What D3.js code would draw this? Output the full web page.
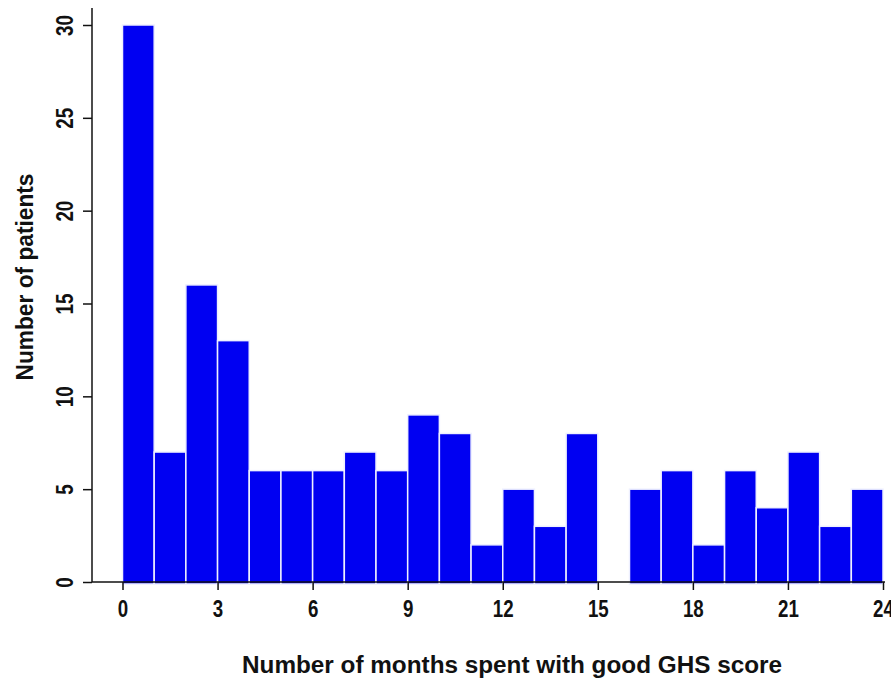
<!DOCTYPE html>
<html>
<head>
<meta charset="utf-8">
<script src="https://cdn.jsdelivr.net/npm/d3@7"></script>
<style>
  body { margin: 0; background: #fff; }
  text { font-family: "Liberation Sans", Arial, sans-serif; font-weight: bold; fill: #111; }
</style>
</head>
<body>
<script>
// histogram bins: months spent with good GHS score (1-month wide)
const binStarts = d3.range(0, 24);
const counts = [30, 7, 16, 13, 6, 6, 6, 7, 6, 9, 8, 2, 5, 3, 8, 0, 5, 6, 2, 6, 4, 7, 3, 5];
const xTicks = [0, 3, 6, 9, 12, 15, 18, 21, 24];
const yTicks = [0, 5, 10, 15, 20, 25, 30];

const width = 891, height = 679;

const svg = d3.select("body")
    .append("svg")
    .attr("width", width)
    .attr("height", height);

const x = d3.scaleLinear().domain([0, 24]).range([122.5, 883]);
const y = d3.scaleLinear().domain([0, 30]).range([582, 25]);
const axisX = 92;

// bars
svg.append("g")
    .selectAll("rect")
    .data(counts)
    .join("rect")
    .attr("x", (d, i) => x(binStarts[i]))
    .attr("width", (d, i) => x(binStarts[i] + 1) - x(binStarts[i]))
    .attr("y", d => y(d))
    .attr("height", d => y(0) - y(d) + 2)
    .attr("fill", "#0000f2")
    .attr("stroke", "#eef0ff")
    .attr("stroke-width", 1.5)
    .style("display", d => d > 0 ? null : "none");

// baseline and y axis line
svg.append("line")
    .attr("x1", axisX).attr("x2", x(24) + 2)
    .attr("y1", y(0)).attr("y2", y(0))
    .attr("stroke", "#111").attr("stroke-width", 1.5);
svg.append("line")
    .attr("x1", axisX).attr("x2", axisX)
    .attr("y1", y(0)).attr("y2", 8)
    .attr("stroke", "#111").attr("stroke-width", 1.5);

// x axis
const xaxis = d3.axisBottom(x).tickValues(xTicks).tickSize(8).tickSizeOuter(0).tickPadding(10);
const gx = svg.append("g")
    .attr("transform", `translate(0,${y(0)})`)
    .call(xaxis);
gx.select(".domain").remove();
gx.selectAll(".tick line").attr("stroke", "#111").attr("stroke-width", 1.5);
gx.selectAll(".tick text")
    .attr("font-size", 24)
    .attr("font-family", null)
    .attr("fill", "#111")
    .attr("transform", "scale(0.78,1)");

// y axis, labels rotated
const yaxis = d3.axisLeft(y).tickValues(yTicks).tickSize(9).tickSizeOuter(0);
const gy = svg.append("g")
    .attr("transform", `translate(${axisX},0)`)
    .call(yaxis);
gy.select(".domain").remove();
gy.selectAll(".tick line").attr("stroke", "#111").attr("stroke-width", 1.5);
gy.selectAll(".tick text")
    .attr("font-size", 24)
    .attr("font-family", null)
    .attr("fill", "#111")
    .attr("x", 0)
    .attr("dy", null)
    .attr("text-anchor", "middle")
    .attr("transform", "translate(-19,0) rotate(-90) scale(0.78,1)");

// axis titles
svg.append("text")
    .attr("x", 512)
    .attr("y", 673)
    .attr("text-anchor", "middle")
    .attr("font-size", 23)
    .attr("textLength", 540)
    .attr("lengthAdjust", "spacingAndGlyphs")
    .text("Number of months spent with good GHS score");

svg.append("text")
    .attr("transform", "translate(33,277) rotate(-90)")
    .attr("text-anchor", "middle")
    .attr("font-size", 23)
    .attr("textLength", 207)
    .attr("lengthAdjust", "spacingAndGlyphs")
    .text("Number of patients");
</script>
</body>
</html>
